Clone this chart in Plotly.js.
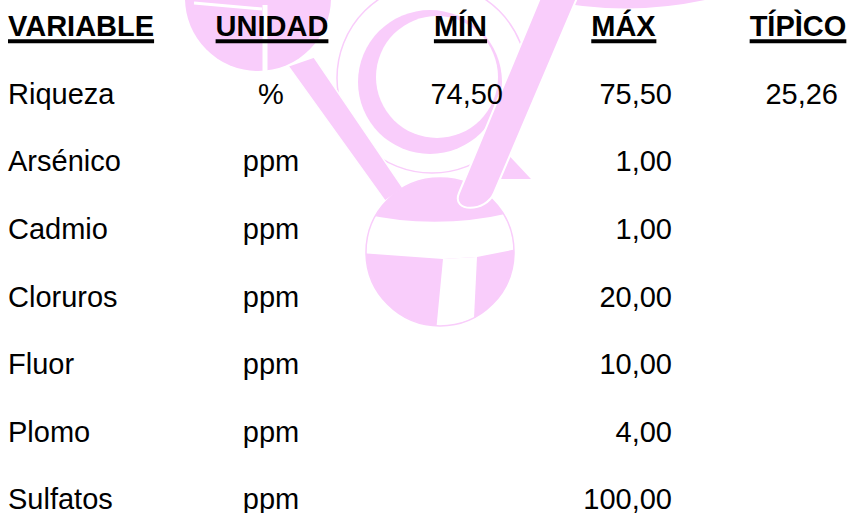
<!DOCTYPE html>
<html>
<head>
<meta charset="utf-8">
<script src="https://cdn.plot.ly/plotly-3.0.1.min.js"></script>
<style>
html,body{margin:0;padding:0;background:#fff;}
</style>
</head>
<body>
<div id="chart" style="width:851px;height:513px;"></div>
<script>
// ---- data ----
const headers   = ['VARIABLE', 'UNIDAD', 'MÍN', 'MÁX', 'TÍPÌCO'];
const variables = ['Riqueza', 'Arsénico', 'Cadmio', 'Cloruros', 'Fluor', 'Plomo', 'Sulfatos'];
const units     = ['%', 'ppm', 'ppm', 'ppm', 'ppm', 'ppm', 'ppm'];
const minVals   = [74.50, null, null, null, null, null, null];
const maxVals   = [75.50, 1.00, 1.00, 20.00, 10.00, 4.00, 100.00];
const typVals   = [25.26, null, null, null, null, null, null];

// ---- layout constants ----
const FONT = '"Liberation Sans", Arial, sans-serif';
const FS = 29;
const PINK = '#f9cdfb';
const Y0 = 29, ROWH = 67.6;          // pixel of row 0 and row pitch
const W = 851, H = 513;
const headX   = [8, 272, 460.5, 623.5, 798];
const headPos = ['middle right', 'middle center', 'middle center', 'middle center', 'middle center'];
const varX = 8, unitX = 271, minX = 503, maxX = 672, typX = 838;
const UL_TOP = 39.3, UL_BOT = 43.3;  // header underline band (pixels)

const fmt = v => v.toFixed(2).replace('.', ',');
const rows = variables.map((_, i) => i + 1);

function colTrace(vals, x, pos, isNum) {
  const xs = [], ys = [], ts = [];
  vals.forEach((v, i) => {
    if (v === null || v === undefined) return;
    xs.push(x); ys.push(rows[i]); ts.push(isNum ? fmt(v) : v);
  });
  return {
    type: 'scatter', mode: 'text', x: xs, y: ys, text: ts,
    textposition: pos, marker: {size: 0}, hoverinfo: 'skip',
    textfont: {family: FONT, size: FS, color: '#000'}, showlegend: false, cliponaxis: false
  };
}

const traces = [
  {
    type: 'scatter', mode: 'text', x: headX, y: headers.map(() => 0),
    text: headers, textposition: headPos,
    marker: {size: 0}, hoverinfo: 'skip', showlegend: false, cliponaxis: false,
    textfont: {family: FONT, size: FS, color: '#000', weight: 'bold'}
  },
  colTrace(variables, varX, 'middle right', false),
  colTrace(units, unitX, 'middle center', false),
  colTrace(minVals, minX, 'middle left', true),
  colTrace(maxVals, maxX, 'middle left', true),
  colTrace(typVals, typX, 'middle left', true)
];

// ---- watermark (decoration, pixel coordinates converted to row units) ----
const Y = p => (p - Y0) / ROWH;
const P = (x, y) => x + ',' + Y(y).toFixed(4);
function circ(cx, cy, r, fill, lineColor, lw) {
  return {type: 'circle', xref: 'x', yref: 'y', layer: 'below',
    x0: cx - r, x1: cx + r, y0: Y(cy - r), y1: Y(cy + r),
    fillcolor: fill || 'rgba(0,0,0,0)', line: {color: lineColor || 'rgba(0,0,0,0)', width: lw || 0}};
}
function path(d, fill, lineColor, lw) {
  return {type: 'path', xref: 'x', yref: 'y', layer: 'below', path: d,
    fillcolor: fill || 'rgba(0,0,0,0)', line: {color: lineColor || 'rgba(0,0,0,0)', width: lw || 0}};
}
function seg(x0, y0, x1, y1, color, lw) {
  return {type: 'line', xref: 'x', yref: 'y', layer: 'below',
    x0: x0, x1: x1, y0: Y(y0), y1: Y(y1), line: {color: color, width: lw}};
}

const shapes = [
  // outer thin ring
  circ(432, 78, 95, null, PINK, 1.5),
  // crescent
  circ(430, 82, 72, PINK),
  circ(437, 77, 61, '#fff'),
  // top-left ball
  circ(258, -2, 73, PINK),
  seg(194, 3, 262, 9, '#fff', 3),
  seg(265, 5, 265, 75, '#fff', 5),
  // left bar
  path('M' + P(288, 66) + ' L' + P(314, 57) + ' L' + P(403, 188) + ' L' + P(385, 201) + ' Z', PINK, '#fff', 1.5),
  // bottom ball
  circ(440, 252, 74, PINK),
  path('M' + P(360, 213) + ' Q' + P(440, 232) + ' ' + P(522, 210) + ' L' + P(522, 248) +
       ' L' + P(477, 257) + ' L' + P(443, 259) + ' L' + P(360, 253) + ' Z', '#fff'),
  path('M' + P(443, 259) + ' L' + P(477, 257) + ' L' + P(474, 318) + ' L' + P(436, 332) + ' Z', '#fff'),
  circ(440, 252, 74, null, PINK, 1.5),
  // wing
  path('M' + P(500, 146) + ' L' + P(531, 179) + ' L' + P(486, 179) + ' Z', PINK),
  // top-right cap
  path('M' + P(546, 0) + ' Q' + P(625, 17) + ' ' + P(705, 0) + ' Z', PINK),
  // right bar
  path('M' + P(540, -2) + ' L' + P(577, -2) + ' L' + P(494, 193) + ' C' + P(485.8, 212.7) + ' ' +
       P(450.8, 212.7) + ' ' + P(459, 193) + ' Z', PINK, '#fff', 2)
];

const layout = {
  width: W, height: H, margin: {l: 0, r: 0, t: 0, b: 0, pad: 0},
  paper_bgcolor: '#fff', plot_bgcolor: '#fff', showlegend: false,
  xaxis: {range: [0, W], visible: false, fixedrange: true},
  yaxis: {range: [Y(H), Y(0)], visible: false, fixedrange: true},
  shapes: shapes
};

Plotly.newPlot('chart', traces, layout, {staticPlot: true, displayModeBar: false}).then(gd => {
  // underline each header with a thick bar matched to the rendered text width
  const box = gd.getBoundingClientRect();
  const headTrace = gd.querySelectorAll('.scatterlayer .trace')[0];
  const ul = [];
  headTrace.querySelectorAll('.textpoint text').forEach(t => {
    const r = t.getBoundingClientRect();
    ul.push({type: 'rect', xref: 'x', yref: 'y', layer: 'above',
      x0: r.left - box.left, x1: r.right - box.left, y0: Y(UL_TOP), y1: Y(UL_BOT),
      fillcolor: '#000', line: {width: 0}});
  });
  return Plotly.relayout(gd, {shapes: shapes.concat(ul)});
});
</script>
</body>
</html>
